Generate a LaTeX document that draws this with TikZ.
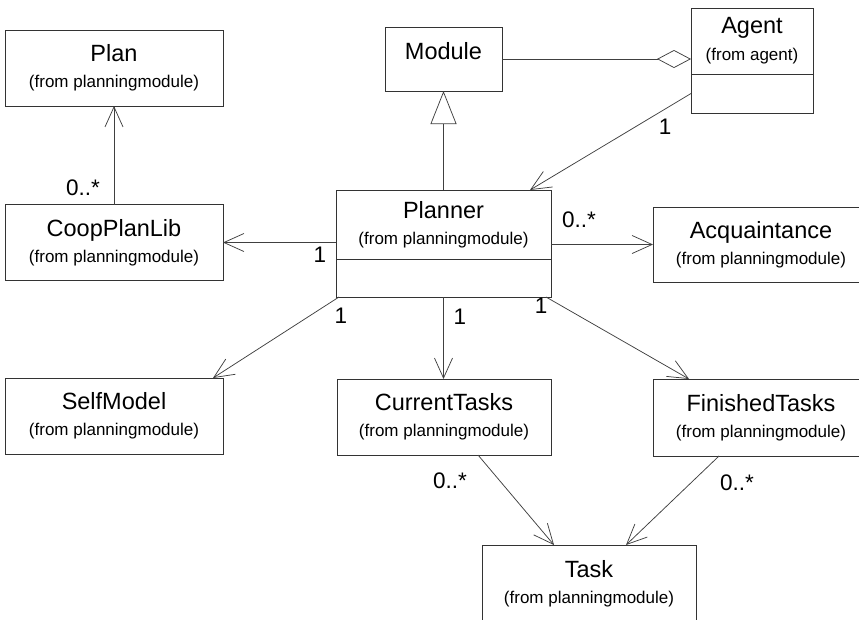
\documentclass[tikz,border=0pt]{standalone}
\usepackage{fontspec}
\setmainfont{Liberation Sans}
\usetikzlibrary{arrows.meta,positioning}
\newcommand{\cname}[1]{{\fontsize{23.5}{27}\selectfont #1}}
\newcommand{\cfrom}[1]{{\fontsize{17}{20}\selectfont (from #1)}}
\begin{document}
\begin{tikzpicture}[x=1pt,y=-1pt,
  cls/.style={draw=black!80,line width=0.8pt,rectangle,inner sep=0pt,outer sep=0pt,
    align=center,font=\fontsize{17}{20}\selectfont,minimum width=218pt,minimum height=76pt},
  ops/.style={draw=black!80,line width=0.8pt,rectangle,inner sep=0pt,outer sep=0pt},
  assoc/.style={draw=black!75,line width=0.75pt,-{Straight Barb[length=20pt,width=18pt]}},
  gen/.style={draw=black!75,line width=0.75pt,-{Triangle[open,length=33pt,width=26pt]}},
  aggr/.style={draw=black!75,line width=0.75pt,-{Diamond[open,length=34pt,width=18pt]}},
  mult/.style={inner sep=0pt,font=\fontsize{22.5}{26}\selectfont}]
\useasboundingbox (0,0) rectangle (859,619);

\node[cls] (plan) at (114,68) {\cname{Plan}\\[6pt]\cfrom{planningmodule}};
\node[cls] (coop) at (114,242.5) {\cname{CoopPlanLib}\\[6pt]\cfrom{planningmodule}};
\node[cls,minimum width=117pt,minimum height=64pt] (module) at (443.5,59) {\raisebox{16pt}{\cname{Module}}};
\node[cls,minimum width=122pt,minimum height=66pt] (agent) at (752,41) {\raisebox{-3pt}{\cname{Agent}}\\[9pt]\cfrom{agent}};
\node[ops,minimum width=122pt,minimum height=39pt,below=0pt of agent] (agentops) {};
\node[cls,minimum width=215pt,minimum height=69pt] (planner) at (443.5,224.5) {\cname{Planner}\\[6pt]\cfrom{planningmodule}};
\node[ops,minimum width=215pt,minimum height=38pt,below=0pt of planner] (plannerops) {};
\node[cls,minimum width=216pt,minimum height=75pt] (acq) at (761,244.5) {\cname{Acquaintance}\\[6pt]\cfrom{planningmodule}};
\node[cls] (self) at (114,416) {\cname{SelfModel}\\[6pt]\cfrom{planningmodule}};
\node[cls,minimum width=214pt] (current) at (444,417) {\cname{CurrentTasks}\\[6pt]\cfrom{planningmodule}};
\node[cls,minimum width=216pt,minimum height=77pt] (finished) at (761,417.5) {\cname{FinishedTasks}\\[6pt]\cfrom{planningmodule}};
\node[cls,minimum width=214pt,minimum height=78pt] (task) at (589,584) {\cname{Task}\\[6pt]\cfrom{planningmodule}};

\draw[assoc] (coop) -- (plan);
\draw[assoc] (planner.west |- coop.east) -- (coop.east);
\draw[assoc] (planner.east |- acq.west) -- (acq.west);
\draw[gen] (planner.north) -- (module.south);
\draw[aggr] (module.east) -- (module.east -| agent.west);
\draw[assoc] (agentops.west) -- ([xshift=-21pt]planner.north east);
\draw[assoc] ([xshift=3pt]plannerops.south west) -- ([xshift=-10pt]self.north east);
\draw[assoc] (plannerops.south) -- (plannerops.south |- current.north);
\draw[assoc] ([xshift=-5pt]plannerops.south east) -- ([xshift=36pt]finished.north west);
\draw[assoc] ([xshift=34pt]current.south) -- ([xshift=-35pt]task.north);
\draw[assoc] ([xshift=-42pt]finished.south) -- ([xshift=37pt]task.north);

\node[mult] (mplan) at (83,188) {0..*};
\node[mult] (mcoop) at (320,255) {1};
\node[mult] (macq) at (579,220) {0..*};
\node[mult] (magent) at (665,127) {1};
\node[mult] (mself) at (341,316) {1};
\node[mult] (mcur) at (460,317) {1};
\node[mult] (mfin) at (541,306) {1};
\node[mult] (mtaskc) at (450,481) {0..*};
\node[mult] (mtaskf) at (737,483) {0..*};
\end{tikzpicture}
\end{document}
